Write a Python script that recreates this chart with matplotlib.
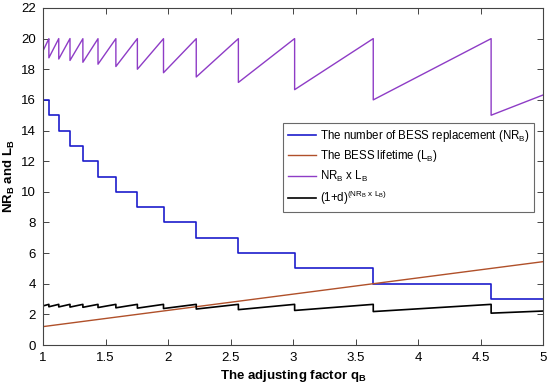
import numpy as np
import matplotlib
matplotlib.use("Agg")
import matplotlib.pyplot as plt

plt.rcParams['font.family'] = ['Liberation Sans', 'DejaVu Sans']
plt.rcParams['mathtext.fontset'] = 'custom'
plt.rcParams['mathtext.rm'] = 'Liberation Sans'
plt.rcParams['mathtext.it'] = 'Liberation Sans'
plt.rcParams['mathtext.bf'] = 'Liberation Sans:bold'

# Step breakpoints of the adjusting factor q_B where NR_B changes
q_breaks = [1.0, 1.047, 1.126, 1.216, 1.319, 1.440, 1.583, 1.755,
            1.964, 2.226, 2.563, 3.013, 3.642, 4.585, 5.0]
# Number of BESS replacements on each interval
nr_values = [16, 15, 14, 13, 12, 11, 10, 9, 8, 7, 6, 5, 4, 3]
# BESS lifetime (straight line) end points
lb_q = [1.0, 5.0]
lb_values = [1.2, 5.44]
# discount rate
d = 0.05

# build piecewise series
xs, nr_y, prod_y, disc_y = [], [], [], []
for i, nr in enumerate(nr_values):
    a, b = q_breaks[i], q_breaks[i + 1]
    for q in (a, b):
        L = np.interp(q, lb_q, lb_values)
        xs.append(q)
        nr_y.append(nr)
        prod_y.append(nr * L)
        disc_y.append((1 + d) ** (nr * L))

fig = plt.figure(figsize=(5.5, 3.85), dpi=100)
ax = fig.add_axes([43 / 550, 1 - 345 / 385, 500 / 550, 337 / 385])

c_blue = '#1c1ccc'
c_red = '#b0502a'
c_purple = '#8e3cc6'

ax.plot(xs, nr_y, color=c_blue, lw=1.2,
        label='The number of BESS replacement (NR$_\\mathregular{B}$)')
ax.plot(lb_q, lb_values, color=c_red, lw=1.0,
        label='The BESS lifetime (L$_\\mathregular{B}$)')
ax.plot(xs, prod_y, color=c_purple, lw=1.0,
        label='NR$_\\mathregular{B}$ x L$_\\mathregular{B}$')
ax.plot(xs, disc_y, color='black', lw=1.2,
        label='(1+d)$^\\mathregular{(NR_B\\ x\\ L_B)}$')

ax.set_xlim(1, 5)
ax.set_ylim(0, 22)
ax.set_xticks([1, 1.5, 2, 2.5, 3, 3.5, 4, 4.5, 5])
ax.set_xticklabels(['1', '1.5', '2', '2.5', '3', '3.5', '4', '4.5', '5'])
ax.set_yticks(range(0, 23, 2))
ax.tick_params(direction='in', top=True, right=True, labelsize=9.5,
               length=4, width=0.7, color='#444444', pad=5)
for s in ax.spines.values():
    s.set_color('#444444')
    s.set_linewidth(0.8)

ax.set_xlabel('The adjusting factor q$_\\mathbf{B}$', fontsize=9.5,
              fontweight='bold', labelpad=3)
ax.set_ylabel('NR$_\\mathbf{B}$ and L$_\\mathbf{B}$', fontsize=9.5,
              fontweight='bold', labelpad=3)

leg = ax.legend(loc='upper left', bbox_to_anchor=(283 / 550, 1 - 123 / 385),
                bbox_transform=fig.transFigure, fontsize=8.3,
                frameon=True, fancybox=False, handlelength=2.5,
                handletextpad=0.3, borderpad=0.4, labelspacing=0.42,
                borderaxespad=0)
leg.get_frame().set_edgecolor('#444444')
leg.get_frame().set_linewidth(0.8)

fig.savefig('out.png', dpi=100)
